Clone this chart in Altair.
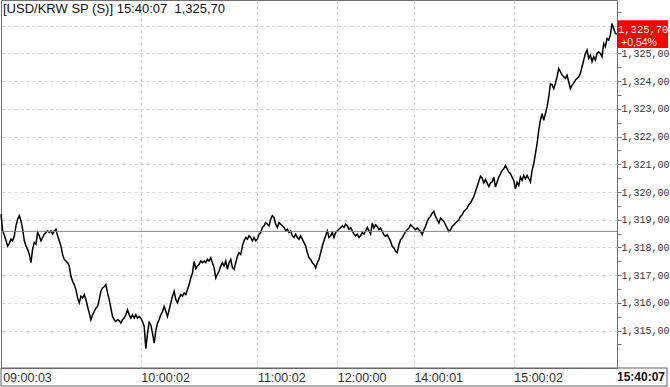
import altair as alt
import pandas as pd

# ---- text / reference values ----
symbol = "[USD/KRW SP (S)]"
last_time = "15:40:07"
last_price_text = "1,325,70"
change_text = "+0,54%"
last_price = 1325.70
prev_close = 1318.58

# ---- price series (one sample per step) ----
seg_0900 = [
    1319.2, 1318.6, 1318.45, 1318.25, 1318.05, 1318.15, 1318.3, 1318.24, 1318.42, 1318.78,
    1319.02, 1319.15, 1318.96, 1318.66, 1318.24, 1318.05, 1317.93, 1317.75, 1317.45, 1317.95,
    1318.18, 1318.12, 1318.54, 1318.42, 1318.24, 1318.36, 1318.48, 1318.54, 1318.6, 1318.54,
    1318.6, 1318.48, 1318.6, 1318.66, 1318.42, 1318.24, 1318.05, 1317.75, 1317.57, 1317.51,
    1317.45, 1317.33, 1316.96, 1316.78, 1316.66, 1316.48, 1316.18, 1316.0, 1316.24, 1316.18,
    1316.3, 1316.12, 1315.87, 1315.63, 1315.39, 1315.57, 1315.69, 1315.81, 1315.87, 1316.12,
    1316.42, 1316.54, 1316.58, 1316.66, 1316.36, 1316.12, 1315.81, 1315.51, 1315.39, 1315.33,
    1315.39, 1315.36, 1315.27, 1315.39, 1315.45, 1315.57, 1315.75, 1315.57, 1315.45,
]
seg_1000 = [
    1315.57, 1315.45, 1315.57, 1315.45, 1315.51, 1315.45, 1315.33, 1315.15, 1314.35, 1314.9,
    1315.3, 1315.21, 1314.9, 1314.55, 1315.0, 1315.27, 1315.39, 1315.57, 1315.69, 1315.87,
    1315.69, 1315.51, 1315.75, 1316.0, 1316.24, 1316.42, 1316.12, 1316.0, 1316.18, 1316.3,
    1316.24, 1316.36, 1316.3, 1316.48, 1316.66, 1316.9, 1317.08, 1317.5, 1317.24, 1317.33,
    1317.39, 1317.51, 1317.45, 1317.51, 1317.45, 1317.57, 1317.51, 1317.63, 1317.45, 1317.27,
    1316.9, 1317.03, 1317.15, 1317.33, 1317.45, 1317.33, 1317.51, 1317.21, 1317.45, 1317.57,
    1317.27, 1317.21, 1317.45, 1317.69, 1317.81, 1317.75, 1318.05, 1318.24, 1318.36, 1318.3,
    1318.42, 1318.36,
]
seg_1100 = [
    1318.24, 1318.36, 1318.24, 1318.3, 1318.48, 1318.54, 1318.72, 1318.78, 1318.9, 1318.84,
    1318.78, 1319.02, 1319.15, 1319.08, 1318.84, 1318.72, 1318.9, 1318.84, 1318.78, 1318.72,
    1318.6, 1318.66, 1318.54, 1318.6, 1318.42, 1318.36, 1318.48, 1318.36, 1318.3, 1318.42,
    1318.3, 1318.18, 1318.05, 1317.81, 1317.63, 1317.57, 1317.45, 1317.39, 1317.27, 1317.45,
    1317.57, 1317.81, 1318.05, 1318.24, 1318.42, 1318.6, 1318.36, 1318.42, 1318.54, 1318.36,
    1318.54, 1318.6, 1318.66, 1318.72, 1318.78, 1318.72, 1318.84, 1318.78, 1318.66, 1318.72,
    1318.6, 1318.48, 1318.42, 1318.48, 1318.36, 1318.42, 1318.54, 1318.48, 1318.6, 1318.72,
    1318.6, 1318.48,
]
seg_1300 = [
    1318.88, 1318.7, 1318.82, 1318.76, 1318.64, 1318.7, 1318.58, 1318.46, 1318.4, 1318.46,
    1318.34, 1318.22, 1318.04, 1317.98, 1317.86, 1317.82, 1318.1, 1318.28, 1318.34, 1318.46,
    1318.58, 1318.64, 1318.7, 1318.82, 1318.76, 1318.7, 1318.64, 1318.7, 1318.64, 1318.58,
    1318.46, 1318.64, 1318.76, 1318.94, 1319.06, 1319.12, 1319.24, 1319.3, 1319.12, 1319.0,
    1318.88, 1319.06, 1319.0, 1318.94, 1318.82, 1318.7, 1318.58, 1318.64, 1318.76, 1318.82,
    1318.88, 1318.94, 1319.0, 1319.12, 1319.18, 1319.3, 1319.36, 1319.42, 1319.54, 1319.6,
    1319.72, 1319.84, 1320.02, 1320.2, 1320.39, 1320.57, 1320.51, 1320.33, 1320.45, 1320.33,
    1320.2, 1320.33,
]
seg_1500 = [
    1320.36, 1320.54, 1320.18, 1320.36, 1320.54, 1320.66, 1320.78, 1320.84, 1320.96, 1320.84,
    1320.72, 1320.66, 1320.54, 1320.42, 1320.12, 1320.36, 1320.24, 1320.54, 1320.42, 1320.6,
    1320.48, 1320.6, 1320.48, 1320.36, 1320.78, 1321.02, 1321.39, 1321.75, 1322.23, 1322.6,
    1322.83, 1322.59, 1322.83, 1323.07, 1323.43, 1323.9, 1323.88, 1323.73, 1323.92, 1324.16,
    1324.46, 1324.34, 1324.22, 1324.16, 1324.1, 1324.22, 1323.98, 1323.73, 1323.86, 1323.92,
    1324.04, 1324.1, 1324.16, 1324.28, 1324.52, 1324.76, 1325.0, 1325.12, 1324.82, 1324.94,
    1324.7, 1324.88, 1324.76, 1325.0, 1325.06, 1325.0, 1324.88, 1325.36, 1325.24, 1325.54,
    1325.48, 1325.66, 1326.08, 1325.9, 1325.72, 1325.7,
]

prices = seg_0900 + seg_1000 + seg_1100 + seg_1300 + seg_1500

# ---- x-axis tick labels (position = sample number) ----
tick_index = [1, 84, 154, 202, 248, 308]
tick_labels = ["09:00:03", "10:00:02", "11:00:02", "12:00:00", "14:00:01", "15:00:02"]

# ---- y-axis ticks ----
y_ticks = [1314.5, 1315, 1315.5, 1316, 1316.5, 1317, 1317.5, 1318, 1318.5, 1319, 1319.5,
           1320, 1320.5, 1321, 1321.5, 1322, 1322.5, 1323, 1323.5, 1324, 1324.5, 1325,
           1325.5, 1326, 1326.5]
y_label_max = 1325  # the label above this one sits behind the last-price box

df = pd.DataFrame({"idx": list(range(len(prices))), "price": prices})
n_last = len(prices) - 1

W, H = 616, 368
xscale = alt.Scale(domain=[0, n_last], nice=False, zero=False)
yscale = alt.Scale(domain=[1313.65, 1326.93], nice=False, zero=False)

lab_arr = "[" + ",".join("'" + t + "'" for t in tick_labels) + "]"
idx_arr = "[" + ",".join(str(i) for i in tick_index) + "]"

x_axis = alt.Axis(
    values=tick_index, tickCount=100,
    labelExpr=lab_arr + "[indexof(" + idx_arr + ", datum.value)]",
    ticks=False, tickSize=0, domain=False,
    labelAlign="left", labelBaseline="top", labelPadding=3,
    labelFlush=False, labelOverlap=False,
    labelFont="Liberation Sans", labelFontSize=12.5, labelColor="#333333",
    grid=True, gridDash=[3, 3], gridColor="#cfcfcf", gridWidth=1,
    gridOpacity={"condition": {"test": "datum.value < 5", "value": 0}, "value": 1},
)
y_label_expr = (
    "(datum.value % 1 != 0 || datum.value > " + str(y_label_max) + ") ? '' : "
    "replace(format(datum.value, ',.2f'), '.', ',')"
)
y_axis = alt.Axis(
    orient="right", values=y_ticks, tickCount=100,
    labelExpr=y_label_expr,
    tickSize=4, tickColor="#707070", domain=False, labelPadding=0,
    labelFont="Liberation Mono", labelFontSize=10, labelColor="#333333",
    labelOverlap=False, labelFlush=False,
    grid=True, gridDash=[3, 3], gridColor="#cfcfcf", gridWidth=1,
    gridOpacity={"condition": {"test": "datum.value % 1 != 0", "value": 0}, "value": 1},
)

line = alt.Chart(df).mark_line(color="#000000", strokeWidth=1.5).encode(
    x=alt.X("idx:Q", scale=xscale, axis=x_axis, title=None),
    y=alt.Y("price:Q", scale=yscale, axis=y_axis, title=None),
)

prev_df = pd.DataFrame({"price": [prev_close]})
prev_rule = alt.Chart(prev_df).mark_rule(color="#858585", strokeWidth=1).encode(
    y=alt.Y("price:Q", scale=yscale, title=None),
)

box_df = pd.DataFrame({"price": [last_price], "top": [last_price + 0.5], "bot": [last_price - 0.5]})
box = alt.Chart(box_df).mark_rect(color="#ff0000").encode(
    x=alt.value(W), x2=alt.value(W + 51),
    y=alt.Y("top:Q", scale=yscale, title=None), y2="bot:Q",
)
box_price = alt.Chart(box_df).mark_text(
    align="left", baseline="middle", font="Liberation Mono", fontSize=10.5,
    color="#ffffff", dy=-4,
).encode(x=alt.value(W + 1), y=alt.Y("price:Q", scale=yscale, title=None), text=alt.value(last_price_text))
box_change = alt.Chart(box_df).mark_text(
    align="center", baseline="middle", font="Liberation Sans", fontSize=10.5,
    color="#ffffff", dy=9,
).encode(x=alt.value(W + 22), y=alt.Y("price:Q", scale=yscale, title=None), text=alt.value(change_text))

one = pd.DataFrame({"a": [0]})
title = alt.Chart(one).mark_text(
    align="left", baseline="top", font="Liberation Sans", fontSize=13, color="#111111",
).encode(x=alt.value(2), y=alt.value(3),
         text=alt.value(symbol + " " + last_time + " \u00a0" + last_price_text))

strip = alt.Chart(one).mark_rect(filled=False, stroke="#606060", strokeWidth=1).encode(
    x=alt.value(0), x2=alt.value(W + 50), y=alt.value(H), y2=alt.value(H + 18),
)
time_text = alt.Chart(one).mark_text(
    align="right", baseline="middle", font="Liberation Sans", fontSize=12,
    fontWeight="bold", color="#111111",
).encode(x=alt.value(W + 48), y=alt.value(H + 9), text=alt.value(last_time))

chart = alt.layer(
    line, prev_rule, box, box_price, box_change, title, strip, time_text
).properties(
    width=W, height=H,
    autosize=alt.AutoSizeParams(type="none"),
    padding={"left": 1, "top": 0, "right": 53, "bottom": 19},
    background="#ffffff",
).configure_view(stroke="#707070", strokeWidth=1)

chart.save("out.html", embed_options={"renderer": "svg", "actions": False})
